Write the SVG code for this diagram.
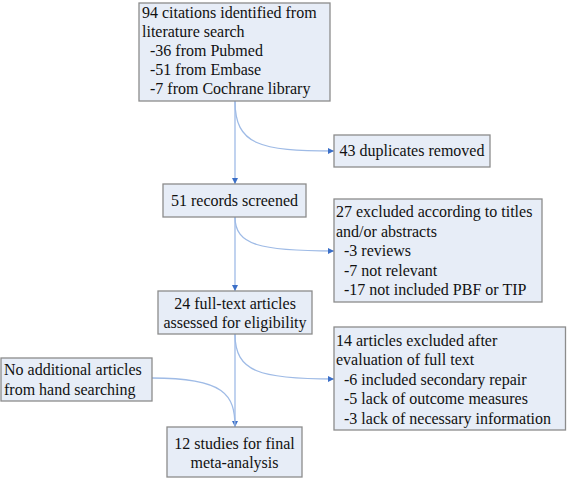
<svg xmlns="http://www.w3.org/2000/svg" width="567" height="479" viewBox="0 0 567 479" font-family="'Liberation Serif', 'Times New Roman', serif" font-size="16">
<style>
.box{fill:#e7edf7;stroke:#8c8c8c;stroke-width:1.3}
.t{font-family:'Liberation Serif','Times New Roman',serif;font-size:16px;fill:#111}
.c{text-anchor:middle}
.ln{fill:none;stroke:#9fbbe6;stroke-width:1.3}
</style>
<defs>
<marker id="ah" viewBox="0 0 10 10" refX="10" refY="5" markerWidth="6" markerHeight="6" markerUnits="userSpaceOnUse" orient="auto">
<path d="M0,0 L10,5 L0,10 z" fill="#3b6fc8"/>
</marker>
</defs>
<rect width="567" height="479" fill="#fff"/>
<g id="connectors">
<path class="ln" d="M235,101 L235,184" marker-end="url(#ah)"/>
<path class="ln" d="M235,101 C235,145 260,151 334,151" marker-end="url(#ah)"/>
<path class="ln" d="M235,217 L235,291" marker-end="url(#ah)"/>
<path class="ln" d="M235,217 C235,245 260,251 334,251" marker-end="url(#ah)"/>
<path class="ln" d="M235,334 L235,427" marker-end="url(#ah)"/>
<path class="ln" d="M235,334 C235,372 260,379 334,379" marker-end="url(#ah)"/>
<path class="ln" d="M152,378 C225,378 235,395 235,427"/>
</g>
<g id="n1" class="t">
<rect class="box" x="139" y="3" width="191" height="98"/>
<text x="142" y="18">94 citations identified from</text>
<text x="142" y="37">literature search</text>
<text x="150" y="56">-36 from Pubmed</text>
<text x="150" y="75">-51 from Embase</text>
<text x="150" y="94">-7 from Cochrane library</text>
</g>
<g id="n2" class="t">
<rect class="box" x="334" y="135" width="156" height="32"/>
<text class="c" x="412" y="156">43 duplicates removed</text>
</g>
<g id="n3" class="t">
<rect class="box" x="163" y="184" width="143" height="33"/>
<text class="c" x="234.5" y="206">51 records screened</text>
</g>
<g id="n4" class="t">
<rect class="box" x="334" y="199" width="208" height="103"/>
<text x="336" y="217">27 excluded according to titles</text>
<text x="336" y="236.5">and/or abstracts</text>
<text x="344" y="256">-3 reviews</text>
<text x="344" y="275.5">-7 not relevant</text>
<text x="344" y="295">-17 not included PBF or TIP</text>
</g>
<g id="n5" class="t">
<rect class="box" x="158" y="291" width="154" height="43"/>
<text class="c" x="235" y="308.5">24 full-text articles</text>
<text class="c" x="235" y="328">assessed for eligibility</text>
</g>
<g id="n6" class="t">
<rect class="box" x="334" y="327" width="231.5" height="103"/>
<text x="336" y="345.5">14 articles excluded after</text>
<text x="336" y="365">evaluation of full text</text>
<text x="344" y="384.5">-6 included secondary repair</text>
<text x="344" y="404">-5 lack of outcome measures</text>
<text x="344" y="423.5">-3 lack of necessary information</text>
</g>
<g id="n7" class="t">
<rect class="box" x="1" y="358" width="151" height="43"/>
<text x="4" y="374.5">No additional articles</text>
<text x="4" y="395">from hand searching</text>
</g>
<g id="n8" class="t">
<rect class="box" x="167" y="427" width="135" height="50"/>
<text class="c" x="234.5" y="448.5">12 studies for final</text>
<text class="c" x="234.5" y="468">meta-analysis</text>
</g>
</svg>
